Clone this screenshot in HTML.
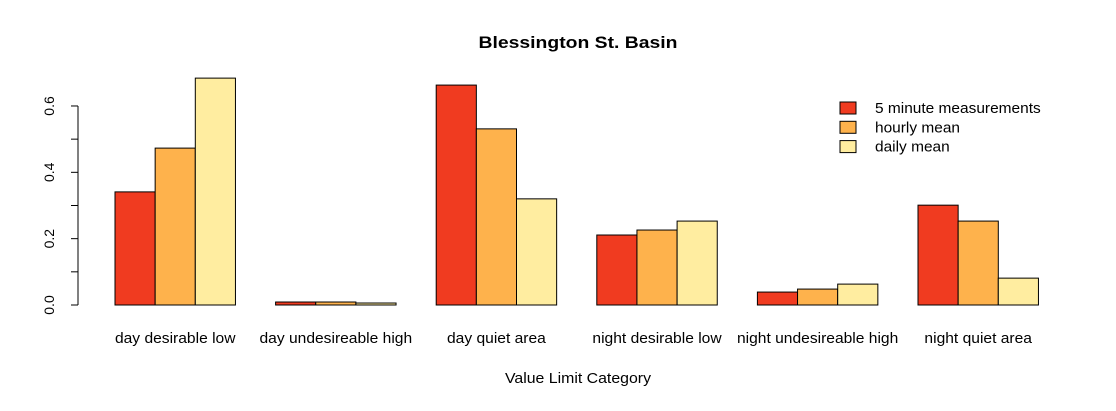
<!DOCTYPE html>
<html><head><meta charset="utf-8"><style>
body{margin:0;background:#fff}
svg text{font-family:"Liberation Sans",Arial,sans-serif;fill:#000}
</style></head><body>
<svg id="chart" width="1116" height="406" viewBox="0 0 1116 406">
<text x="578" y="48" text-anchor="middle" font-size="17" font-weight="bold" textLength="199" lengthAdjust="spacingAndGlyphs">Blessington St. Basin</text>
<text x="578" y="383" text-anchor="middle" font-size="15" textLength="146" lengthAdjust="spacingAndGlyphs">Value Limit Category</text>
<g id="bars"></g><g id="yaxis"></g><g id="xlabels"></g><g id="legend"></g>
</svg>
<script>
const categories=["day desirable low","day undesireable high","day quiet area","night desirable low","night undesireable high","night quiet area"];
const seriesNames=["5 minute measurements","hourly mean","daily mean"];
const fiveMin=[0.341,0.009,0.663,0.211,0.039,0.301];
const hourly=[0.473,0.009,0.531,0.226,0.048,0.253];
const daily=[0.684,0.006,0.32,0.253,0.063,0.081];
const yTicks=[0,0.1,0.2,0.3,0.4,0.5,0.6];
const yLabels=["0.0","0.2","0.4","0.6"];
const colors=["#F03B20","#FEB24C","#FFEDA0"];
const NS="http://www.w3.org/2000/svg";
const y0=305, pxPer=331.7;
const ys=v=>y0-v*pxPer;
const barW=40.15, groupStep=160.6, x0=115;
const xs=(g,s)=>x0+g*groupStep+s*barW;
const fs=15/14*1.04;
function mk(t,a,p){const e=document.createElementNS(NS,t);for(const k in a)e.setAttribute(k,a[k]);p.appendChild(e);return e;}
const series=[fiveMin,hourly,daily];
const bars=document.getElementById('bars');
series.forEach((arr,s)=>arr.forEach((v,g)=>{
 const r=mk('rect',{x:xs(g,s),y:ys(v),width:barW,height:y0-ys(v),fill:colors[s],stroke:'#000','stroke-width':1},bars);
 
 
}));
const ya=document.getElementById('yaxis');


mk('line',{x1:78,x2:78,y1:ys(0),y2:ys(0.6),stroke:'#000'},ya);
yTicks.forEach(t=>mk('line',{x1:71,x2:78,y1:ys(t),y2:ys(t),stroke:'#000'},ya));
yLabels.forEach(l=>{const v=parseFloat(l);const t=mk('text',{x:0,y:0,'font-size':14,'text-anchor':'middle',transform:`translate(54,${ys(v)}) rotate(-90)`},ya);t.textContent=l;
 
 });
const xl=document.getElementById('xlabels');
categories.forEach((c,g)=>{const t=mk('text',{x:xs(g,1.5),y:343,'font-size':15,'text-anchor':'middle'},xl);t.textContent=c;
 
 
 const w=t.getComputedTextLength();t.setAttribute('textLength',w*1.04);t.setAttribute('lengthAdjust','spacingAndGlyphs');});
const lg=document.getElementById('legend');


seriesNames.forEach((n,i)=>{const y=102+i*19.3;
 const g=mk('g',{},lg);
 
 
 mk('rect',{x:840,y:y,width:16,height:12,fill:colors[i],stroke:'#000'},g);
 const t=mk('text',{x:875,y:y+11,'font-size':15},g);t.textContent=n;
 const w=t.getComputedTextLength();t.setAttribute('textLength',w*1.03);t.setAttribute('lengthAdjust','spacingAndGlyphs');});
</script>
</body></html>
